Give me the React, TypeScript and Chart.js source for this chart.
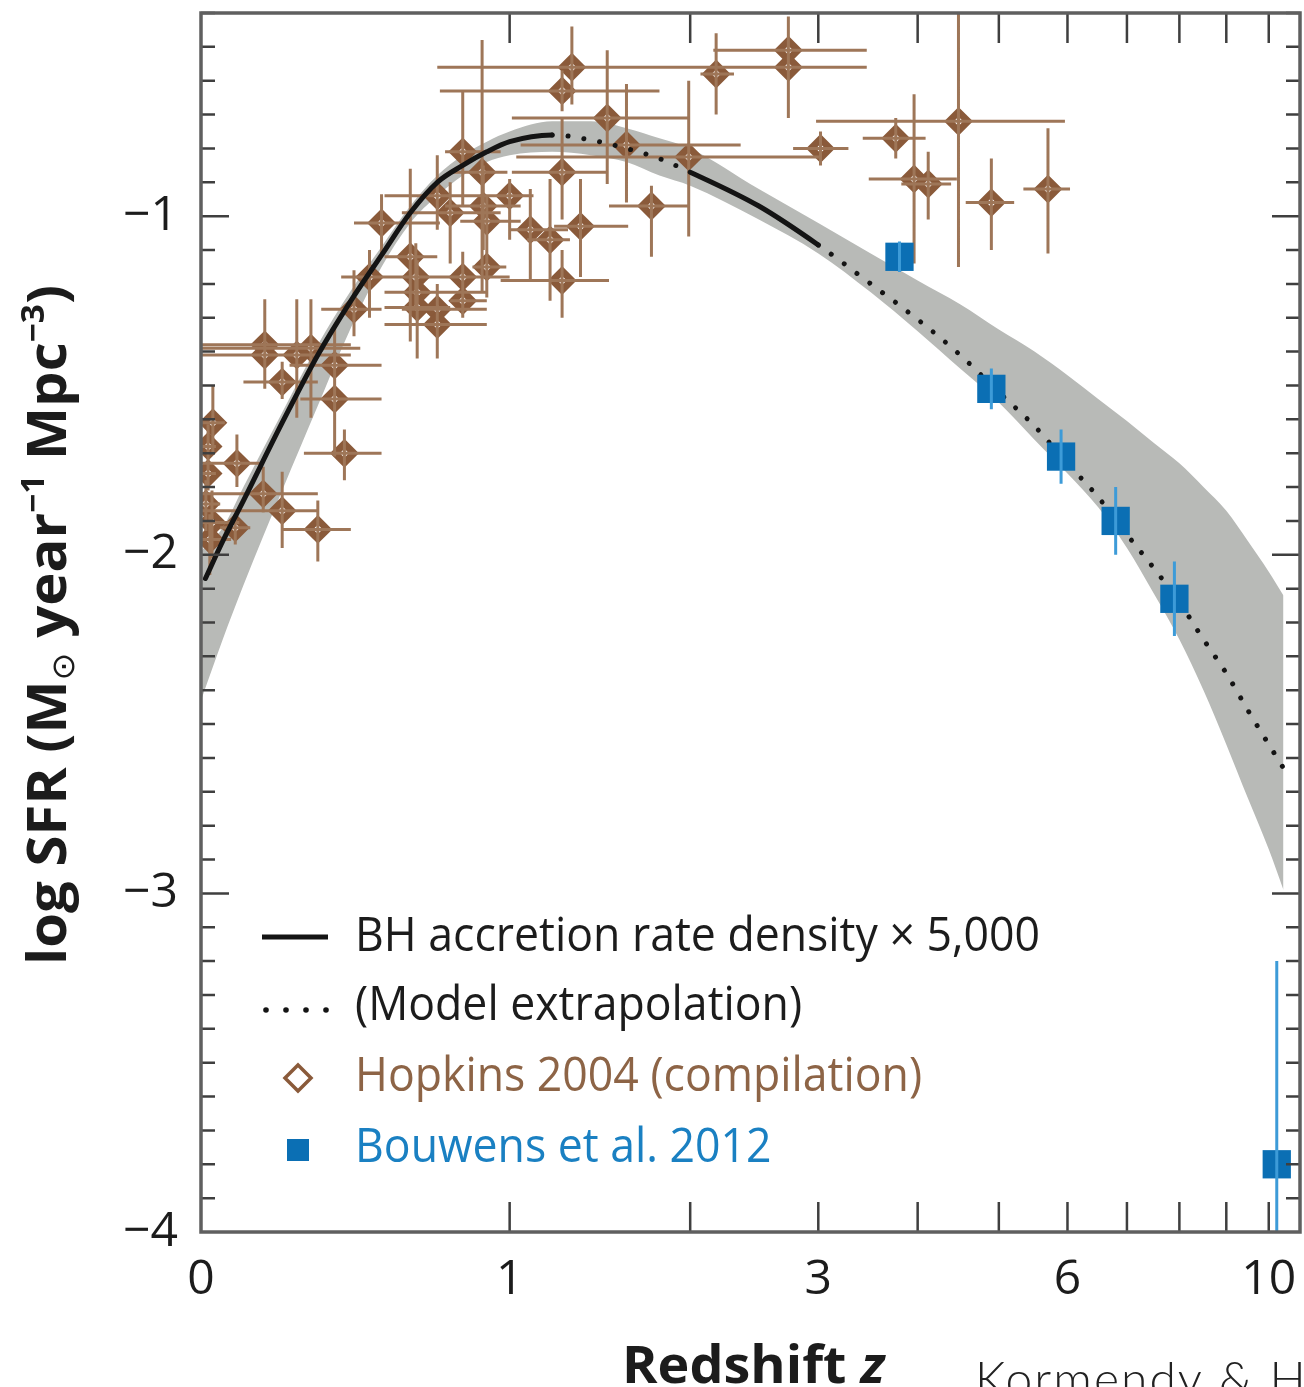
import React, { useEffect, useRef } from 'react';
import { Chart, registerables } from 'chart.js';

Chart.register(...registerables);

const CANVAS_W = 1304;
const CANVAS_H = 1387;
const FONT = "'Open Sans', 'Noto Sans', 'DejaVu Sans', sans-serif";

// ---- axes ----
const xLabelZ = [0, 1, 3, 6, 10];
const xTickMarkZ = [1, 2, 3, 4, 5, 6, 7, 8, 9, 10];
const yLabelValues = [-1, -2, -3, -4];
const zAxisMax = 10.8;
const yAxisMin = -4;
const yAxisMax = -0.4;

// ---- Hopkins 2004 compilation (redshift z, log SFR) ----
const hopkinsZ = [1.30, 1.25, 2.18, 2.74, 2.74, 1.49, 1.60, 1.99, 1.25, 1.75, 3.02, 3.76, 4.48, 3.96, 4.12, 4.90, 5.70,
  0.80, 0.88, 0.70, 0.75, 0.885, 0.90, 1.00, 1.095, 1.19, 1.345, 1.25, 0.50, 0.60, 0.62, 0.625, 0.625, 0.70, 0.70, 0.80, 0.80, 0.90, 0.46, 0.41,
  0.154, 0.154, 0.24, 0.28, 0.35, 0.35, 0.20, 0.38, 0.027, 0.084, 0.016, 0.016, 0.15, 0.20, 0.30, 0.025, 0.02, 0.08, 0.011];
const hopkinsZLo = [0.70, 0.71, 2.07, 2.16, 1.75, 1.01, 1.05, 1.03, 1.01, 1.50, 2.78, 3.42, 2.98, 3.48, 3.82, 4.57, 5.34,
  0.73, 0.75, 0.51, 0.57, 0.73, 0.79, 0.93, 1.00, 1.08, 1.21, 0.96, 0.41, 0.51, 0.50, 0.51, 0.51, 0.57, 0.51, 0.71, 0.75, 0.84, 0.37, 0.31,
  0, 0, 0, 0, 0.22, 0.25, 0.10, 0.26, 0, 0, 0, 0, 0, 0, 0.20, 0, 0, 0.044, 0];
const hopkinsZHi = [1.88, 1.80, 2.31, 3.46, 3.46, 1.99, 2.36, 3.02, 1.49, 1.99, 3.28, 4.09, 5.96, 4.46, 4.39, 5.21, 6.04,
  0.96, 0.99, 1.11, 0.96, 1.05, 1.05, 1.095, 1.28, 1.29, 1.61, 1.50, 0.71, 0.70, 0.75, 0.90, 0.75, 0.90, 0.90, 1.00, 0.90, 0.985, 0.57, 0.50,
  0.40, 0.34, 0.40, 0.43, 0.50, 0.50, 0.30, 0.50, 0.055, 0.15, 0.034, 0.034, 0.30, 0.30, 0.40, 0.09, 0.07, 0.117, 0.044];
const hopkinsSFR = [-0.56, -0.63, -0.58, -0.51, -0.56, -0.71, -0.79, -0.825, -0.87, -0.97, -0.80, -0.77, -0.72, -0.89, -0.905, -0.96, -0.92,
  -0.81, -0.87, -0.94, -0.99, -0.97, -1.015, -0.94, -1.04, -1.07, -1.03, -1.19, -1.02, -1.12, -1.18, -1.225, -1.27, -1.275, -1.32, -1.18, -1.25, -1.15, -1.18, -1.275,
  -1.38, -1.41, -1.41, -1.39, -1.44, -1.54, -1.49, -1.70, -1.61, -1.73, -1.68, -1.76, -1.82, -1.87, -1.925, -1.905, -1.955, -1.92, -1.85];
const hopkinsSFRLo = [-0.67, -0.69, -0.70, -0.62, -0.71, -0.905, -0.96, -1.06, -1.01, -1.12, -0.85, -0.83, -1.15, -1.14, -1.01, -1.10, -1.11,
  -0.97, -1.22, -1.04, -1.14, -1.10, -1.17, -1.07, -1.19, -1.25, -1.18, -1.30, -1.11, -1.37, -1.275, -1.33, -1.42, -1.36, -1.42, -1.25, -1.30, -1.24, -1.30, -1.355,
  -1.51, -1.50, -1.595, -1.595, -1.60, -1.71, -1.54, -1.78, -1.70, -1.80, -1.75, -1.81, -1.875, -1.98, -2.02, -2.01, -2.06, -1.97, -1.93];
const hopkinsSFRHi = [-0.44, -0.57, -0.46, -0.41, -0.48, -0.51, -0.61, -0.60, -0.71, -0.91, -0.75, -0.71, -0.40, -0.64, -0.81, -0.83, -0.74,
  -0.63, -0.48, -0.82, -0.90, -0.85, -0.935, -0.89, -0.92, -0.89, -0.89, -1.10, -0.935, -0.86, -1.08, -1.13, -1.17, -1.20, -1.245, -1.105, -1.20, -0.94, -1.10, -1.16,
  -1.245, -1.33, -1.245, -1.245, -1.33, -1.47, -1.43, -1.63, -1.50, -1.645, -1.615, -1.70, -1.74, -1.755, -1.84, -1.81, -1.88, -1.88, -1.78];

// ---- Bouwens et al. 2012 ----
const bouwensZ = [3.8, 4.9, 5.9, 6.8, 7.9, 10.2];
const bouwensSFR = [-1.12, -1.51, -1.71, -1.90, -2.13, -3.80];
const bouwensErrUp = [0.045, 0.06, 0.08, 0.10, 0.11, 0.60];
const bouwensErrDown = [0.045, 0.06, 0.08, 0.10, 0.11, 1.0];

// ---- BH accretion rate density x 5000 (model) ----
const curveZ = [0.01, 0.05, 0.1, 0.2, 0.3, 0.4, 0.5, 0.6, 0.7, 0.8, 0.9, 1.0, 1.2, 1.4, 1.6, 1.8, 2.0, 2.5, 3.0, 3.5, 4.0, 4.5, 5.0, 5.5, 6.0, 6.5, 7.0, 7.5, 8.0, 8.5, 9.0, 9.5, 10.0, 10.37];
const curveSFR = [-2.07, -1.96, -1.84, -1.61, -1.41, -1.25, -1.115, -0.99, -0.90, -0.85, -0.81, -0.78, -0.76, -0.775, -0.80, -0.83, -0.87, -0.97, -1.085, -1.20, -1.305, -1.41, -1.52, -1.62, -1.73, -1.83, -1.94, -2.04, -2.14, -2.25, -2.35, -2.46, -2.56, -2.63];
const solidZRanges = [[0, 1.2], [2.0, 3.0]];

// ---- uncertainty band ----
const bandZ = [0, 0.05, 0.1, 0.2, 0.3, 0.4, 0.5, 0.6, 0.7, 0.8, 0.9, 1.0, 1.2, 1.4, 1.6, 1.8, 2.0, 2.5, 3.0, 3.5, 4.0, 4.5, 5.0, 5.5, 6.0, 6.5, 7.0, 7.5, 8.0, 8.5, 9.0, 9.5, 10.0, 10.37];
const bandUpper = [-1.99, -1.92, -1.80, -1.58, -1.38, -1.22, -1.09, -0.97, -0.88, -0.82, -0.78, -0.75, -0.72, -0.72, -0.74, -0.77, -0.80, -0.92, -1.02, -1.11, -1.19, -1.26, -1.335, -1.40, -1.47, -1.54, -1.605, -1.67, -1.73, -1.80, -1.87, -1.96, -2.05, -2.12];
const bandLower = [-2.43, -2.25, -2.09, -1.81, -1.56, -1.33, -1.15, -1.02, -0.94, -0.88, -0.84, -0.82, -0.81, -0.82, -0.84, -0.88, -0.91, -1.01, -1.11, -1.225, -1.34, -1.45, -1.55, -1.66, -1.76, -1.86, -1.98, -2.115, -2.25, -2.40, -2.56, -2.72, -2.87, -2.99];

// ---- texts ----
const legendLabels = ['BH accretion rate density \u00d7 5,000', '(Model extrapolation)', 'Hopkins 2004 (compilation)', 'Bouwens et al. 2012'];
const xTitle = ['Redshift ', 'z'];
const creditText = 'Kormendy & Ho (2013)';

const COLORS = {
  band: '#b8bab7',
  curve: '#141414',
  hopkins: '#8a5a3a',
  hopkinsBar: '#9e7658',
  hopkinsText: '#8d6446',
  bouwens: '#0b6fb4',
  bouwensBar: '#3d9bd8',
  bouwensText: '#1a80c2',
  frame: '#5f5f5f',
  tick: '#3f3f3f',
  text: '#1c1c1c',
};

const lz = (z: number) => Math.log10(1 + z);

function isSolid(z: number) {
  return solidZRanges.some(([a, b]) => z >= a - 1e-6 && z < b - 1e-6);
}

const decorPlugin = {
  id: 'decor',
  afterDatasetDraw(chart: any, args: any) {
    const ds: any = chart.data.datasets[args.index];
    const { ctx, chartArea: a } = chart;
    const xs = chart.scales.x;
    const ys = chart.scales.y;
    if (ds.label === legendLabels[2]) {
      ctx.save();
      ctx.beginPath();
      ctx.rect(a.left, a.top, a.right - a.left, a.bottom - a.top);
      ctx.clip();
      ctx.strokeStyle = COLORS.hopkinsBar;
      ctx.lineWidth = 3;
      ctx.beginPath();
      hopkinsZ.forEach((z, i) => {
        const px = xs.getPixelForValue(lz(z));
        const py = ys.getPixelForValue(hopkinsSFR[i]);
        ctx.moveTo(xs.getPixelForValue(lz(hopkinsZLo[i])), py);
        ctx.lineTo(xs.getPixelForValue(lz(hopkinsZHi[i])), py);
        ctx.moveTo(px, ys.getPixelForValue(hopkinsSFRLo[i]));
        ctx.lineTo(px, ys.getPixelForValue(hopkinsSFRHi[i]));
      });
      ctx.stroke();
      ctx.restore();
    }
    if (ds.label === legendLabels[3]) {
      ctx.save();
      ctx.beginPath();
      ctx.rect(a.left, a.top, a.right - a.left, a.bottom - a.top);
      ctx.clip();
      ctx.strokeStyle = COLORS.bouwensBar;
      ctx.lineWidth = 3;
      ctx.beginPath();
      bouwensZ.forEach((z, i) => {
        const px = xs.getPixelForValue(lz(z));
        ctx.moveTo(px, ys.getPixelForValue(bouwensSFR[i] - bouwensErrDown[i]));
        ctx.lineTo(px, ys.getPixelForValue(bouwensSFR[i] + bouwensErrUp[i]));
      });
      ctx.stroke();
      ctx.restore();
    }
  },
  afterDraw(chart: any) {
    const { ctx, chartArea: a } = chart;
    const xs = chart.scales.x;
    const ys = chart.scales.y;
    ctx.save();
    // tick marks (inward)
    ctx.strokeStyle = COLORS.tick;
    ctx.lineWidth = 2.5;
    ctx.beginPath();
    xTickMarkZ.forEach((z) => {
      const px = xs.getPixelForValue(lz(z));
      ctx.moveTo(px, a.bottom);
      ctx.lineTo(px, a.bottom - 30);
      ctx.moveTo(px, a.top);
      ctx.lineTo(px, a.top + 30);
    });
    for (let k = -39; k <= -4; k++) {
      const py = ys.getPixelForValue(k / 10);
      const len = k % 10 === 0 ? 28 : 14;
      ctx.moveTo(a.left, py);
      ctx.lineTo(a.left + len, py);
      ctx.moveTo(a.right, py);
      ctx.lineTo(a.right - len, py);
    }
    ctx.stroke();
    // frame
    ctx.strokeStyle = COLORS.frame;
    ctx.lineWidth = 3.5;
    ctx.strokeRect(a.left, a.top, a.right - a.left, a.bottom - a.top);

    // legend
    const lx = 355;
    const rows = [937, 1006, 1077, 1148];
    ctx.font = `400 48px ${FONT}`;
    const s = 685 / ctx.measureText(legendLabels[0]).width;
    const colors = [COLORS.text, COLORS.text, COLORS.hopkinsText, COLORS.bouwensText];
    ctx.textBaseline = 'middle';
    ctx.textAlign = 'left';
    legendLabels.forEach((t, i) => {
      ctx.save();
      ctx.translate(lx, rows[i]);
      ctx.scale(s, 1);
      ctx.fillStyle = colors[i];
      ctx.fillText(t, 0, 0);
      ctx.restore();
    });
    // legend markers
    ctx.strokeStyle = COLORS.curve;
    ctx.lineWidth = 5;
    ctx.lineCap = 'butt';
    ctx.beginPath();
    ctx.moveTo(262, rows[0]);
    ctx.lineTo(328, rows[0]);
    ctx.stroke();
    ctx.fillStyle = COLORS.curve;
    [266, 286, 306, 326].forEach((x) => {
      ctx.beginPath();
      ctx.arc(x, rows[1] + 4, 2.8, 0, Math.PI * 2);
      ctx.fill();
    });
    ctx.beginPath();
    ctx.moveTo(298 - 13, rows[2] + 1);
    ctx.lineTo(298, rows[2] + 1 - 13);
    ctx.lineTo(298 + 13, rows[2] + 1);
    ctx.lineTo(298, rows[2] + 1 + 13);
    ctx.closePath();
    ctx.fillStyle = '#ffffff';
    ctx.fill();
    ctx.strokeStyle = COLORS.hopkins;
    ctx.lineWidth = 3.5;
    ctx.stroke();
    ctx.fillStyle = COLORS.bouwens;
    ctx.fillRect(298 - 11, rows[3] + 2 - 11, 22, 22);

    // y title (rotated rich text)
    const yParts = [
      { t: 'log SFR (M', size: 54, w: 700, dy: 0 },
      { t: '\u2299', size: 32, w: 400, dy: 8 },
      { t: ' year', size: 54, w: 700, dy: 0 },
      { t: '\u22121', size: 32, w: 700, dy: -22 },
      { t: ' Mpc', size: 54, w: 700, dy: 0 },
      { t: '\u22123', size: 32, w: 700, dy: -22 },
      { t: ')', size: 54, w: 700, dy: 0 },
    ];
    let total = 0;
    const widths = yParts.map((p) => {
      ctx.font = `${p.w} ${p.size}px ${FONT}`;
      const w = ctx.measureText(p.t).width;
      total += w;
      return w;
    });
    ctx.save();
    ctx.translate(66, 965);
    ctx.rotate(-Math.PI / 2);
    ctx.scale(680 / total, 1);
    ctx.fillStyle = COLORS.text;
    ctx.textBaseline = 'alphabetic';
    let cx = 0;
    yParts.forEach((p, i) => {
      ctx.font = `${p.w} ${p.size}px ${FONT}`;
      ctx.fillText(p.t, cx, p.dy);
      cx += widths[i];
    });
    ctx.restore();

    // x title
    ctx.font = `700 52px ${FONT}`;
    const w0 = ctx.measureText(xTitle[0]).width;
    ctx.font = `italic 700 52px ${FONT}`;
    const w1 = ctx.measureText(xTitle[1]).width;
    ctx.save();
    ctx.translate(622, 1383);
    ctx.scale(263 / (w0 + w1), 1);
    ctx.fillStyle = COLORS.text;
    ctx.textBaseline = 'alphabetic';
    ctx.font = `700 52px ${FONT}`;
    ctx.fillText(xTitle[0], 0, 0);
    ctx.font = `italic 700 52px ${FONT}`;
    ctx.fillText(xTitle[1], w0, 0);
    ctx.restore();

    // credit
    ctx.save();
    ctx.font = `300 48px Lato, ${FONT}`;
    (ctx as any).letterSpacing = '2px';
    ctx.fillStyle = '#222';
    ctx.textBaseline = 'alphabetic';
    ctx.fillText(creditText, 975, 1396);
    ctx.restore();

    ctx.restore();
  },
};

export default function App() {
  const ref = useRef<HTMLCanvasElement | null>(null);
  useEffect(() => {
    const canvas = ref.current;
    if (!canvas) return;
    const chart = new Chart(canvas, {
      type: 'line',
      data: {
        datasets: [
          {
            label: 'band-upper',
            data: bandZ.map((z, i) => ({ x: lz(z), y: bandUpper[i] })),
            borderWidth: 0,
            borderColor: 'rgba(0,0,0,0)',
            backgroundColor: COLORS.band,
            pointRadius: 0,
            fill: '+1',
            cubicInterpolationMode: 'monotone',
            order: 10,
          },
          {
            label: 'band-lower',
            data: bandZ.map((z, i) => ({ x: lz(z), y: bandLower[i] })),
            borderWidth: 0,
            borderColor: 'rgba(0,0,0,0)',
            backgroundColor: COLORS.band,
            pointRadius: 0,
            fill: false,
            cubicInterpolationMode: 'monotone',
            order: 9,
          },
          {
            label: legendLabels[2],
            data: hopkinsZ.map((z, i) => ({ x: lz(z), y: hopkinsSFR[i] })),
            showLine: false,
            pointStyle: 'rectRot',
            pointRadius: 9.5,
            pointBorderWidth: 7,
            pointBorderColor: COLORS.hopkins,
            pointBackgroundColor: '#ffffff',
            clip: 0,
            order: 5,
          },
          {
            label: legendLabels[0],
            data: curveZ.map((z, i) => ({ x: lz(z), y: curveSFR[i] })),
            borderColor: COLORS.curve,
            borderWidth: 5,
            pointRadius: 0,
            fill: false,
            borderCapStyle: 'round',
            cubicInterpolationMode: 'monotone',
            segment: {
              borderDash: (c: any) => (isSolid(Math.pow(10, c.p0.parsed.x) - 1) ? undefined : [0.01, 16]),
            },
            order: 3,
          },
          {
            label: legendLabels[3],
            data: bouwensZ.map((z, i) => ({ x: lz(z), y: bouwensSFR[i] })),
            showLine: false,
            pointStyle: 'rect',
            pointRadius: 20,
            pointBorderWidth: 0,
            pointBackgroundColor: COLORS.bouwens,
            pointBorderColor: COLORS.bouwens,
            clip: 0,
            order: 1,
          },
        ] as any,
      },
      options: {
        animation: false,
        responsive: false,
        maintainAspectRatio: false,
        events: [],
        layout: { autoPadding: false, padding: { top: 13, right: 4, left: 0, bottom: 0 } },
        plugins: { legend: { display: false }, tooltip: { enabled: false } },
        scales: {
          x: {
            type: 'linear',
            min: 0,
            max: lz(zAxisMax),
            grid: { display: false },
            border: { display: false },
            afterBuildTicks: (s: any) => {
              s.ticks = xLabelZ.map((z) => ({ value: lz(z) }));
            },
            afterFit: (s: any) => {
              s.height = CANVAS_H - 1232;
              s.paddingLeft = 0;
              s.paddingRight = 0;
              s.paddingTop = 0;
              s.paddingBottom = 0;
            },
            ticks: {
              autoSkip: false,
              maxRotation: 0,
              padding: 12,
              color: COLORS.text,
              font: { family: FONT, size: 48 },
              callback: (v: any) => String(Math.round(Math.pow(10, Number(v)) - 1)),
            },
          },
          y: {
            type: 'linear',
            min: yAxisMin,
            max: yAxisMax,
            grid: { display: false },
            border: { display: false },
            afterBuildTicks: (s: any) => {
              s.ticks = yLabelValues.map((v) => ({ value: v }));
            },
            afterFit: (s: any) => {
              s.width = 201;
              s.paddingLeft = 0;
              s.paddingRight = 0;
              s.paddingTop = 0;
              s.paddingBottom = 0;
            },
            ticks: {
              padding: 15,
              color: COLORS.text,
              font: { family: FONT, size: 48 },
              callback: (v: any) => '\u2212' + Math.abs(Number(v)),
            },
          },
        },
      } as any,
      plugins: [decorPlugin as any],
    });
    return () => chart.destroy();
  }, []);

  return (
    <div style={{ position: 'absolute', left: 0, top: 0, width: CANVAS_W, height: CANVAS_H, overflow: 'hidden', background: '#ffffff' }}>
      <canvas ref={ref} width={CANVAS_W} height={CANVAS_H} style={{ display: 'block', width: CANVAS_W, height: CANVAS_H }} />
    </div>
  );
}
